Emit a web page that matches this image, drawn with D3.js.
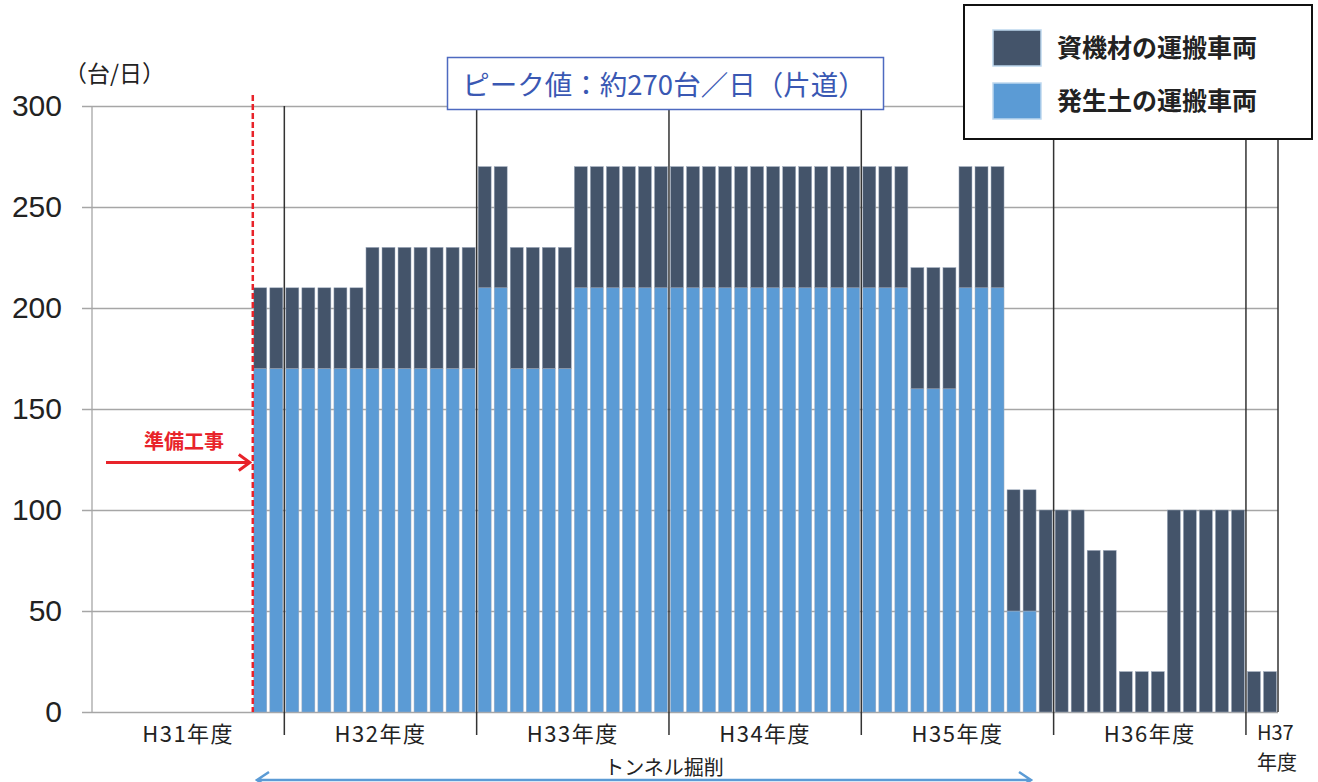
<!DOCTYPE html>
<html>
<head>
<meta charset="utf-8">
<script src="https://d3js.org/d3.v7.min.js"></script>
<style>
  body { margin: 0; background: #fff; }
  svg { display: block; }
</style>
</head>
<body>
<div id="chart"></div>
<script>
// fiscal years and how many months of each are shown
const fiscalYears = ["H31年度", "H32年度", "H33年度", "H34年度", "H35年度", "H36年度", "H37年度"];
const monthsInYear = [12, 12, 12, 12, 12, 12, 2];

// 発生土の運搬車両 (台/日), one value per month
const soilTrucks = [
  0, 0, 0, 0, 0, 0, 0, 0, 0, 0, 170, 170,                  // H31
  170, 170, 170, 170, 170, 170, 170, 170, 170, 170, 170, 170, // H32
  210, 210, 170, 170, 170, 170, 210, 210, 210, 210, 210, 210, // H33
  210, 210, 210, 210, 210, 210, 210, 210, 210, 210, 210, 210, // H34
  210, 210, 210, 160, 160, 160, 210, 210, 210, 50, 50, 0,     // H35
  0, 0, 0, 0, 0, 0, 0, 0, 0, 0, 0, 0,                       // H36
  0, 0                                                      // H37
];

// 資機材の運搬車両 (台/日), one value per month
const materialTrucks = [
  0, 0, 0, 0, 0, 0, 0, 0, 0, 0, 40, 40,
  40, 40, 40, 40, 40, 60, 60, 60, 60, 60, 60, 60,
  60, 60, 60, 60, 60, 60, 60, 60, 60, 60, 60, 60,
  60, 60, 60, 60, 60, 60, 60, 60, 60, 60, 60, 60,
  60, 60, 60, 60, 60, 60, 60, 60, 60, 60, 60, 100,
  100, 100, 80, 80, 20, 20, 20, 100, 100, 100, 100, 100,
  20, 20
];

const yTicks = [0, 50, 100, 150, 200, 250, 300];
const seriesNames = ["資機材の運搬車両", "発生土の運搬車両"];
const colors = { materials: "#44546a", soil: "#5b9bd5" };

const W = 1318, H = 782;
const plotLeft = 92, plotRight = 1278, plotTop = 106, plotBottom = 712;

const svg = d3.select("#chart").append("svg")
  .attr("width", W)
  .attr("height", H);

const n = soilTrucks.length;
const rows = soilTrucks.map((s, i) => ({ i: i, soil: s, materials: materialTrucks[i] }));

const x = d3.scaleBand()
  .domain(rows.map(d => d.i))
  .range([plotLeft, plotRight])
  .paddingInner(0.19)
  .paddingOuter(0.095);

const monthX = d3.scaleLinear().domain([0, n]).range([plotLeft, plotRight]);

const y = d3.scaleLinear().domain([0, 300]).range([plotBottom, plotTop]);

// gridlines + y labels
const yAxis = svg.append("g")
  .attr("transform", "translate(82,0)")
  .call(d3.axisLeft(y).tickValues(yTicks).tickSize(-(plotRight - 82)).tickPadding(20));
yAxis.select(".domain").remove();
yAxis.selectAll(".tick line").attr("stroke", "#a6a6a6").attr("stroke-width", 1.3);
yAxis.selectAll(".tick text")
  .attr("fill", "#222")
  .style("font-family", "'Liberation Sans', Arial, sans-serif")
  .style("font-size", "30px");

// left axis line
svg.append("line")
  .attr("x1", plotLeft).attr("x2", plotLeft)
  .attr("y1", y(300)).attr("y2", y(0))
  .attr("stroke", "#a6a6a6").attr("stroke-width", 1.3);

svg.append("text")
  .attr("x", 64).attr("y", 82)
  .style("font-family", "'Noto Sans CJK JP', sans-serif")
  .style("font-size", "23px")
  .attr("fill", "#222")
  .text("（台/日）");

// stacked bars
const stack = d3.stack().keys(["soil", "materials"]);
const layers = stack(rows);

svg.append("g").selectAll("g")
  .data(layers)
  .join("g")
  .attr("fill", d => colors[d.key])
  .selectAll("rect")
  .data(d => d.filter(p => p[1] > p[0]))
  .join("rect")
  .attr("x", d => x(d.data.i))
  .attr("width", x.bandwidth())
  .attr("y", d => y(d[1]))
  .attr("height", d => y(d[0]) - y(d[1]))
  .attr("stroke", "#9fabbd")
  .attr("stroke-width", 0.5);

// fiscal year dividers
const bounds = Array.from(d3.cumsum(monthsInYear));
const starts = [0].concat(bounds.slice(0, -1));

svg.append("g").selectAll("line")
  .data(bounds)
  .join("line")
  .attr("x1", d => monthX(d)).attr("x2", d => monthX(d))
  .attr("y1", y(300))
  .attr("y2", d => d === n ? y(0) : 735)
  .attr("stroke", "#333")
  .attr("stroke-width", 1.5);

// x labels
const labelFont = "'Noto Sans CJK JP', sans-serif";
fiscalYears.forEach((lab, k) => {
  const a = monthX(starts[k]), b = monthX(bounds[k]);
  if (monthsInYear[k] >= 12) {
    svg.append("text")
      .attr("x", (a + b) / 2).attr("y", 742)
      .attr("text-anchor", "middle")
      .style("font-family", labelFont)
      .style("font-size", "22px")
      .style("letter-spacing", "1.5px")
      .attr("fill", "#222")
      .text(lab);
  } else {
    // short year: wrap onto two lines
    [lab.slice(0, 3), lab.slice(3)].forEach((part, j) => {
      svg.append("text")
        .attr("x", a + 11).attr("y", 740 + j * 30)
        .style("font-family", labelFont)
        .style("font-size", "20px")
        .attr("fill", "#222")
        .text(part);
    });
  }
});

// 準備工事: dashed start line and arrow
const startX = x(10) - 1;
svg.append("line")
  .attr("x1", startX).attr("x2", startX)
  .attr("y1", 95).attr("y2", y(0))
  .attr("stroke", "#e8232a")
  .attr("stroke-width", 2.5)
  .attr("stroke-dasharray", "6,3");

svg.append("path")
  .attr("d", `M106,462.5H${startX - 3}M${startX - 14},454.5L${startX - 3},462.5L${startX - 14},470.5`)
  .attr("fill", "none")
  .attr("stroke", "#e8232a")
  .attr("stroke-width", 3);

svg.append("text")
  .attr("x", 184).attr("y", 449)
  .attr("text-anchor", "middle")
  .style("font-family", labelFont)
  .style("font-size", "20px")
  .style("font-weight", "bold")
  .attr("fill", "#e8232a")
  .text("準備工事");

// トンネル掘削 arrow
svg.append("path")
  .attr("d", "M257,780H1031M269,772L257,780L269,788M1019,772L1031,780L1019,788")
  .attr("fill", "none")
  .attr("stroke", "#5b9bd5")
  .attr("stroke-width", 2.5);

svg.append("text")
  .attr("x", 664).attr("y", 775)
  .attr("text-anchor", "middle")
  .style("font-family", labelFont)
  .style("font-size", "20px")
  .attr("fill", "#222")
  .text("トンネル掘削");

// peak label
svg.append("rect")
  .attr("x", 447.5).attr("y", 57.5)
  .attr("width", 436).attr("height", 52)
  .attr("fill", "#fff")
  .attr("stroke", "#4e6ac0")
  .attr("stroke-width", 1.5);

svg.append("text")
  .attr("x", 664).attr("y", 95)
  .attr("text-anchor", "middle")
  .style("font-family", labelFont)
  .style("font-size", "27.5px")
  .attr("fill", "#3a58b3")
  .text("ピーク値：約270台／日（片道）");

// legend
const legend = svg.append("g");
legend.append("rect")
  .attr("x", 964).attr("y", 5)
  .attr("width", 348).attr("height", 134)
  .attr("fill", "#fff")
  .attr("stroke", "#111")
  .attr("stroke-width", 2);

const legendRows = legend.selectAll("g")
  .data(seriesNames)
  .join("g")
  .attr("transform", (d, i) => `translate(993,${30 + i * 53})`);

legendRows.append("rect")
  .attr("width", 48).attr("height", 36)
  .attr("fill", (d, i) => i === 0 ? colors.materials : colors.soil)
  .attr("stroke", "#bdd7ee")
  .attr("stroke-width", 1.5);

legendRows.append("text")
  .attr("x", 64).attr("y", 27)
  .style("font-family", labelFont)
  .style("font-size", "25px")
  .style("font-weight", "bold")
  .attr("fill", "#222")
  .text(d => d);
</script>
</body>
</html>
